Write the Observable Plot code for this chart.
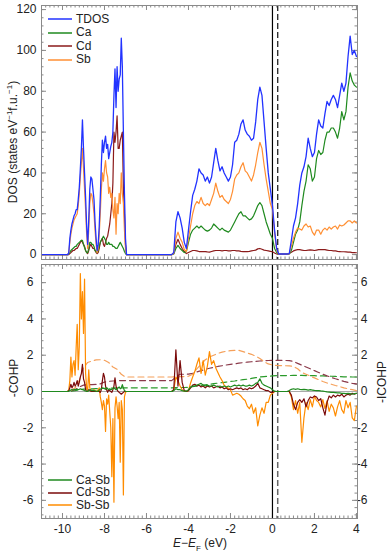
<!DOCTYPE html>
<html>
<head>
<meta charset="utf-8">
<script src="https://cdn.jsdelivr.net/npm/d3@7"></script>
<script src="https://cdn.jsdelivr.net/npm/@observablehq/plot@0.6"></script>
<style>
html,body{margin:0;padding:0;background:#fff;}
#chart{position:relative;width:391px;height:555px;overflow:hidden;font-family:"Liberation Sans",Arial,sans-serif;color:#222;}
#top,#bot{position:absolute;left:0;}
#top{top:0;}
#bot{top:262px;}
.lbl{position:absolute;white-space:nowrap;font-size:12px;line-height:1;}
.rot{transform:translate(-50%,-50%) rotate(-90deg);}
.leg{position:absolute;left:48px;height:11px;display:flex;align-items:center;font-size:12px;line-height:11px;white-space:nowrap;}
.leg svg{margin-right:4px;}
</style>
</head>
<body>
<div id="chart">
  <div id="top"></div>
  <div id="bot"></div>
</div>
<script>
// ---------- energy grids (eV) ----------
const energyGrid = [-11, ...d3.range(-9.8, -6.94, 0.05), -6.9, ...d3.range(-4.8, 4.001, 0.1)].map(v => +v.toFixed(2));
const icohpGrid = [-11, ...d3.range(-9.8, 4.001, 0.2)].map(v => +v.toFixed(2));

// ---------- DOS (states eV^-1 f.u.^-1) ----------
const tdos = [0,
 0,0,1,8,12, 15,17,19,20,22, 22,27,33,42,52, 66,52,40,28,14, 5,17,32,38,37, 32,27,16,8,2, 5,14,28,44,56, 50,55,58,52,54, 47,50,53,55,60, 78,91,72,92,80, 86,88,106,92,60, 30,8,0,
 0,
 0,1,16,21,18,13,6,3,12,21,
 29,32,36,42,40,39,36,38,35,38,
 45,52,46,41,43,40,38,36,38,44,
 55,56,59,64,66,61,59,58,56,57,
 65,76,82,78,65,52,40,32,24,12,
 3,0.3,0.3,0.3,0.3,0.3,0.5,7,14,18,
 25,34,40,43,48,57,52,48,50,59,
 66,63,62,69,75,73,76,78,76,72,
 78,84,80,84,97,107,98,100,97];
const caDos = [0,
 0,0,0.5,1,2, 2.5,3,3.5,4,4, 5,5.5,6,6.5,7, 7,5,3.5,2,1, 1,3,6,6,5, 5,4,2,1.5,1, 2,4,6,7,8, 9,8,7,5,5, 6,5,5,5,4, 4,3.5,3,3,4, 5,6,5,4,3, 1.5,0.5,0,
 0,
 0,0.3,3,4.5,3,2,1,1.5,6,10,
 12,13,14,13,14,13,12,11.5,12,13,
 15,14,13,12,13,12,11.5,11,12,14,
 16,18,20,21,19,19,18,17,17.5,19,
 21.5,24,25.5,24,20,16,13,10,8,3,
 1,0.2,0.2,0.2,0.2,0.2,0.3,2,6,10,
 12,16,24,31,36,44,42,36,38,47,
 51,49,50,56,60,60,62,62,60,57,
 62,70,66,70,82,89,85,83,82];
const cdDos = [0,
 0,0,0,0.5,1, 1.5,2,2,2.5,3, 3,4,5,6,7, 6,5,4,2,1, 0.5,2,4,5,4, 3,3,2,1,0.5, 1,3,6,7,8, 5,4,6,8,9, 12,15,20,25,35, 60,55,60,68,52, 52,56,58,60,33, 20,5,0,
 0,
 0,0.5,5,7.5,5,3,1.5,0.5,1,1.5,
 2,2,1.8,1.5,1.5,1.5,1.5,1.3,1.2,1.5,
 1.8,2,2,2,1.8,2,2,1.8,1.8,2,
 2,1.8,1.8,1.6,1.5,1.5,1.5,1.6,1.8,2,
 2.2,2.8,3,2.6,2.2,2,1.8,1.6,1.4,0.8,
 0.3,0.1,0.1,0.1,0.1,0.1,0.5,1.2,1.8,2.2,
 2.4,2.4,2.2,2,2,2.2,2.3,2.2,2,2.2,
 2.4,2.5,2.4,2.4,2.2,2,2,1.8,1.8,1.6,
 1.5,1.4,1.4,1.3,1.2,1.2,1,1,0.9];
const sbDos = [0,
 0,0,1,6,10, 13,15,17,18,19, 20,24,30,38,45, 52,42,32,22,10, 3,12,25,30,29, 25,20,12,5,1, 3,10,20,32,40, 36,42,46,40,38, 30,33,28,30,22, 18,28,10,25,20, 30,25,40,30,25, 12,3,0,
 0,
 0,0.5,8,11,8,6,2.5,1.5,8,14,
 20,24,26,25,28,25,24,25,24,27,
 30,35,31,28,29,27,26,25,27,31,
 37,39,40,43,45,41,40,38,36,39,
 44,50,55,52,44,37,31,25,22,11,
 2,0.2,0.2,0.2,0.2,0.2,0.5,4,8,11,
 13,12.5,12,14,15,13.5,14,11,9.5,12,
 12,10,12,13,12,13.5,12.5,13.5,14,12.5,
 14.5,14,14.5,15.5,16.5,16.5,15.5,16.5,15.5];

// ---------- -COHP ----------
const sbsbCohp = [0,
 0,0,0.1,0.6,1.9, 0.8,1.5,1.7,0.9,2.4, 3.7,1.2,2.5,6.5,4.0, 5.5,3.2,6.2,1.0,0.2, 0.05,1.2,0.2,0.05,0, 0.05,0.1,0.05,0,0.02, 0.1,0.2,-0.3,-0.6,-1.0, -0.5,-0.8,-2.2,-0.4,-0.7, -0.2,-1.1,-2.0,-4.7,-1.5, -6.1,-0.9,-0.3,-0.8,-1.5, -0.6,-3.9,-0.5,-1.0,-5.7, -0.3,-0.05,0,
 0,
 0,0.1,0.8,0.6,0.3,0.1,0.02,0,0.05,0.47,
 0.8,1.1,1.5,1.85,1.0,1.7,0.9,1.4,2.2,1.5,
 1.7,1.3,1.05,0.8,0.6,0.35,0.25,0.18,0.1,-0.2,
 -0.15,-0.1,-0.15,-0.25,-0.4,-0.5,-0.8,-0.95,-0.7,-1.2,
 -0.9,-1.9,-1.3,-0.9,-1.2,-0.6,-0.6,-0.2,-0.1,0,
 0,0,0,0,0,0,0,-0.3,-1.0,-0.5,
 -1.2,-0.6,-2.8,-1.45,-0.6,-1.0,-0.45,-0.85,-0.25,-0.5,
 -0.6,-0.85,-0.45,-0.95,-0.5,-1.1,-0.7,-0.9,-1.35,-0.85,
 -0.5,-1.0,-1.2,-0.5,-0.9,-0.6,-1.45,-1.6,-0.8];
const cdsbCohp = [0,
 0,0,0.05,0.2,0.4, 0.2,0.3,0.5,0.3,0.4, 0.6,0.3,0.5,0.8,1.0, 1.5,0.7,0.5,0.1,0, 0,0.1,0.05,0.02,0, 0,0.02,0,0,0, 0,0,-0.05,0.1,0.6, 1.0,0.8,0.3,0.1,-0.05, 0.1,0.05,0,-0.05,0.1, 0.3,0.75,0.3,0.1,0, -0.05,-0.1,-0.15,-0.1,-0.05, 0,0,0,
 0,
 0,0.1,2.3,0.3,1.7,0.5,0.05,0,0.05,0.2,
 0.35,0.4,0.3,0.35,0.25,0.3,0.2,0.3,0.25,0.3,
 0.2,0.25,0.3,0.2,0.25,0.15,0.2,0.1,0.15,0.1,
 0.15,0.2,0.15,0.2,0.1,0.15,0.1,0.2,0.15,0.2,
 0.3,0.45,0.2,0.15,0.1,0.05,0.05,-0.05,-0.05,0,
 0,0,0,0,0,0,0,-0.2,-0.7,-1.0,
 -0.6,-0.45,-0.6,-0.4,-0.85,-0.5,-0.3,-0.35,-0.25,-0.3,
 -0.5,-0.4,-0.9,-1.3,-0.6,-0.25,-0.35,-0.2,-0.3,-0.2,
 -0.25,-0.15,-0.3,-0.2,-0.15,-0.2,-0.1,-0.15,-0.1];
const casbCohp = [0,
 0,0,0.02,0.05,0.08, 0.1,0.08,0.1,0.12,0.1, 0.12,0.1,0.12,0.15,0.12, 0.1,0.08,0.05,0.03,0.01, 0.01,0.05,0.1,0.08,0.05, 0.06,0.05,0.03,0.02,0.01, 0.03,0.08,0.12,0.15,0.2, 0.18,0.15,0.12,0.2,0.15, 0.1,0.15,0.1,0.12,0.15, 0.2,0.15,0.1,0.12,0.2, 0.25,0.15,0.2,0.38,0.2, 0.05,0.01,0,
 0,
 0,0.05,0.15,0.1,0.1,0.05,0.02,0.02,0.1,0.25,
 0.3,0.3,0.35,0.4,0.45,0.35,0.3,0.35,0.3,0.3,
 0.35,0.3,0.25,0.3,0.25,0.3,0.25,0.3,0.25,0.3,
 0.35,0.3,0.35,0.3,0.35,0.3,0.3,0.35,0.3,0.35,
 0.45,0.5,0.7,0.45,0.35,0.3,0.25,0.2,0.1,0.02,
 0,0,0,0,0,0,0.05,0.12,0.15,0.12,
 0.15,0.12,0.1,0.12,0.1,0.08,0.1,0.08,0.06,0.05,
 0.05,0.03,0.02,0,-0.02,-0.03,-0.05,-0.05,-0.06,-0.08,
 -0.08,-0.1,-0.1,-0.12,-0.1,-0.12,-0.15,-0.12,-0.1];

// ---------- -ICOHP ----------
const sbsbIcohp = [0,
 0,0.05,0.2,0.6,1.3, 1.6,1.68,1.74,1.75,1.72, 1.6,1.35,1.22,0.95,0.8,
 0.8,0.8,0.8,0.8,0.8, 0.8,0.8,0.8,0.8,0.8, 0.8,
 0.82,0.82,0.82,0.84,
 0.95,1.25,1.5,1.75,1.9, 2.0,2.1,2.17,2.22,2.25,
 2.27,2.27,2.2,2.12,2.05, 1.95,1.82,1.65,1.52,1.46,
 1.44,1.43,1.42,1.41,1.38, 1.25,1.05,0.95,0.85,0.75,
 0.65,0.55,0.47,0.4,0.33, 0.27,0.2,0.15,0.1,0.05];
const cdsbIcohp = [0,
 0,0.03,0.1,0.25,0.35, 0.38,0.38,0.39,0.42,0.52, 0.56,0.58,0.6,0.6,0.6,
 0.6,0.6,0.6,0.6,0.6, 0.6,0.6,0.6,0.6,0.6, 0.6,
 0.8,0.95,0.95,0.96,
 1.0,1.08,1.15,1.22,1.28, 1.33,1.38,1.42,1.46,1.5,
 1.53,1.56,1.59,1.62,1.64, 1.66,1.68,1.7,1.71,1.72,
 1.72,1.72,1.71,1.7,1.66, 1.55,1.45,1.35,1.25,1.15,
 1.05,0.95,0.86,0.78,0.7, 0.63,0.56,0.5,0.45,0.42];
const casbIcohp = [0,
 0,0.02,0.05,0.1,0.13, 0.14,0.15,0.16,0.17,0.18, 0.19,0.19,0.2,0.2,0.2,
 0.2,0.2,0.2,0.2,0.2, 0.2,0.2,0.2,0.2,0.2, 0.2,
 0.21,0.22,0.22,0.23,
 0.27,0.31,0.34,0.37,0.4, 0.43,0.46,0.49,0.52,0.55,
 0.58,0.62,0.65,0.68,0.72, 0.76,0.8,0.82,0.84,0.86,
 0.87,0.88,0.88,0.88,0.89, 0.89,0.89,0.88,0.88,0.87,
 0.86,0.86,0.85,0.84,0.83, 0.82,0.81,0.81,0.8,0.8];

// ---------- ticks & labels ----------
const energyTicks = [-10, -8, -6, -4, -2, 0, 2, 4];
const dosTicks = [0, 20, 40, 60, 80, 100, 120];
const cohpTicks = [-6, -4, -2, 0, 2, 4, 6];
const fermiLine = [0];
const shiftedLine = [0.25];
const dosSeries = ["TDOS", "Ca", "Cd", "Sb"];
const dosColors = ["#2233ff", "#1f8a1f", "#8b1a1a", "#ff8f33"];
const cohpSeries = ["Ca-Sb", "Cd-Sb", "Sb-Sb"];
const cohpColors = ["#1f8a1f", "#7a0a0a", "#ff8c00"];
const icohpColors = ["#2a9a2a", "#8b3a4a", "#f5a05a"];

const dosRows = energyGrid.map((e, i) => ({e, TDOS: tdos[i], Ca: caDos[i], Cd: cdDos[i], Sb: sbDos[i]}));
const cohpRows = energyGrid.map((e, i) => ({e, "Ca-Sb": casbCohp[i], "Cd-Sb": cdsbCohp[i], "Sb-Sb": sbsbCohp[i]}));
const icohpRows = icohpGrid.map((e, i) => ({e, "Ca-Sb": casbIcohp[i], "Cd-Sb": cdsbIcohp[i], "Sb-Sb": sbsbIcohp[i]}));

const W = 391, ML = 41, MR = 34;
const xDomain = [-11, 4.05];
const frameColor = "#8a8a8a";
const font = "Liberation Sans, Arial, sans-serif";
const xMinor = d3.range(-10.8, 4.01, 0.2).map(v => +v.toFixed(1));

function edgeTicks(innerW, innerH, yMajor, yMinor) {
  const s = {stroke: frameColor, strokeWidth: 1};
  return [
    Plot.ruleX(energyTicks, {...s, insetBottom: innerH - 5}),
    Plot.ruleX(xMinor, {...s, insetBottom: innerH - 2.5}),
    Plot.ruleX(energyTicks, {...s, insetTop: innerH - 5}),
    Plot.ruleX(xMinor, {...s, insetTop: innerH - 2.5}),
    Plot.ruleY(yMajor, {...s, insetRight: innerW - 5}),
    Plot.ruleY(yMinor, {...s, insetRight: innerW - 2.5}),
    Plot.ruleY(yMajor, {...s, insetLeft: innerW - 5}),
    Plot.ruleY(yMinor, {...s, insetLeft: innerW - 2.5})
  ];
}

// ---------- top panel: DOS ----------
const topH = 262, topMT = 5, topMB = 3;
const topPlot = Plot.plot({
  width: W, height: topH, marginLeft: ML, marginRight: MR, marginTop: topMT, marginBottom: topMB,
  style: {fontFamily: font, fontSize: "12px", color: "#222", background: "transparent", overflow: "visible"},
  x: {domain: xDomain, axis: null},
  y: {domain: [-2.4, 122]},
  marks: [
    Plot.axisY({ticks: dosTicks, anchor: "left", tickSize: 0, tickPadding: 5, label: null, tickFormat: d => String(d)}),
    ...edgeTicks(W - ML - MR, topH - topMT - topMB, dosTicks, d3.range(0, 121, 4)),
    Plot.ruleX(fermiLine, {stroke: "#000", strokeWidth: 1.2}),
    Plot.ruleX(shiftedLine, {stroke: "#222", strokeWidth: 1.3, strokeDasharray: "6,3"}),
    Plot.line(dosRows, {x: "e", y: "Cd", stroke: dosColors[2], strokeWidth: 1.2}),
    Plot.line(dosRows, {x: "e", y: "Ca", stroke: dosColors[1], strokeWidth: 1.2}),
    Plot.line(dosRows, {x: "e", y: "Sb", stroke: dosColors[3], strokeWidth: 1.2}),
    Plot.line(dosRows, {x: "e", y: "TDOS", stroke: dosColors[0], strokeWidth: 1.3}),
    Plot.frame({stroke: frameColor})
  ]
});
document.getElementById("top").append(topPlot);

// ---------- bottom panel: COHP ----------
const botH = 293, botMT = 2, botMB = 37;
const botPlot = Plot.plot({
  width: W, height: botH, marginLeft: ML, marginRight: MR, marginTop: botMT, marginBottom: botMB,
  style: {fontFamily: font, fontSize: "12px", color: "#222", background: "transparent", overflow: "visible"},
  x: {domain: xDomain},
  y: {domain: [-7, 7]},
  marks: [
    Plot.axisX({ticks: energyTicks, anchor: "bottom", tickSize: 0, tickPadding: 6, label: null, tickFormat: d => String(d)}),
    Plot.axisY({ticks: cohpTicks, anchor: "left", tickSize: 0, tickPadding: 8, label: null, tickFormat: d => String(d)}),
    Plot.axisY({ticks: cohpTicks, anchor: "right", tickSize: 0, tickPadding: 10, textAnchor: "end", label: null, tickFormat: d => String(d)}),
    ...edgeTicks(W - ML - MR, botH - botMT - botMB, cohpTicks, d3.range(-6.8, 6.81, 0.4).map(v => +v.toFixed(1))),
    Plot.ruleY([0], {stroke: "#aaa", strokeWidth: 1}),
    Plot.ruleX(fermiLine, {stroke: "#000", strokeWidth: 1.2}),
    Plot.ruleX(shiftedLine, {stroke: "#666", strokeWidth: 1.5, strokeDasharray: "6,3"}),
    Plot.line(icohpRows, {x: "e", y: "Ca-Sb", stroke: icohpColors[0], strokeWidth: 1.2, strokeDasharray: "6,4"}),
    Plot.line(icohpRows, {x: "e", y: "Cd-Sb", stroke: icohpColors[1], strokeWidth: 1.2, strokeDasharray: "6,4"}),
    Plot.line(icohpRows, {x: "e", y: "Sb-Sb", stroke: icohpColors[2], strokeWidth: 1.2, strokeDasharray: "6,4"}),
    Plot.line(cohpRows, {x: "e", y: "Sb-Sb", stroke: cohpColors[2], strokeWidth: 1.2}),
    Plot.line(cohpRows, {x: "e", y: "Cd-Sb", stroke: cohpColors[1], strokeWidth: 1.2}),
    Plot.line(cohpRows, {x: "e", y: "Ca-Sb", stroke: cohpColors[0], strokeWidth: 1.2}),
    Plot.frame({stroke: frameColor})
  ]
});
document.getElementById("bot").append(botPlot);

// ---------- text overlays: axis titles & legends ----------
const chart = document.getElementById("chart");
function addLabel(html, x, y, rotate) {
  const d = document.createElement("div");
  d.className = "lbl" + (rotate ? " rot" : "");
  d.innerHTML = html;
  d.style.left = x + "px";
  d.style.top = y + "px";
  if (!rotate) d.style.transform = "translate(-50%,-50%)";
  chart.append(d);
}
addLabel("DOS (states eV<sup style='font-size:8px'>−1</sup>f.u.<sup style='font-size:8px'>−1</sup>)", 12, 142, true);
addLabel("-COHP", 14, 378, true);
addLabel("-ICOHP", 382, 382, true);
addLabel("<i>E</i>−<i>E</i><sub style='font-size:8px'>F</sub> (eV)", 200, 545, false);

function addLegend(names, colors, ys) {
  names.forEach((n, i) => {
    const d = document.createElement("div");
    d.className = "leg";
    d.style.top = (ys[i] - 5.5) + "px";
    d.innerHTML = `<svg width="24" height="4"><line x1="0" x2="24" y1="2" y2="2" stroke="${colors[i]}" stroke-width="1.5"/></svg><span>${n}</span>`;
    chart.append(d);
  });
}
addLegend(dosSeries, dosColors, [19, 32.5, 46, 59.5]);
addLegend(cohpSeries, cohpColors, [480, 492.5, 505]);
</script>
</body>
</html>
